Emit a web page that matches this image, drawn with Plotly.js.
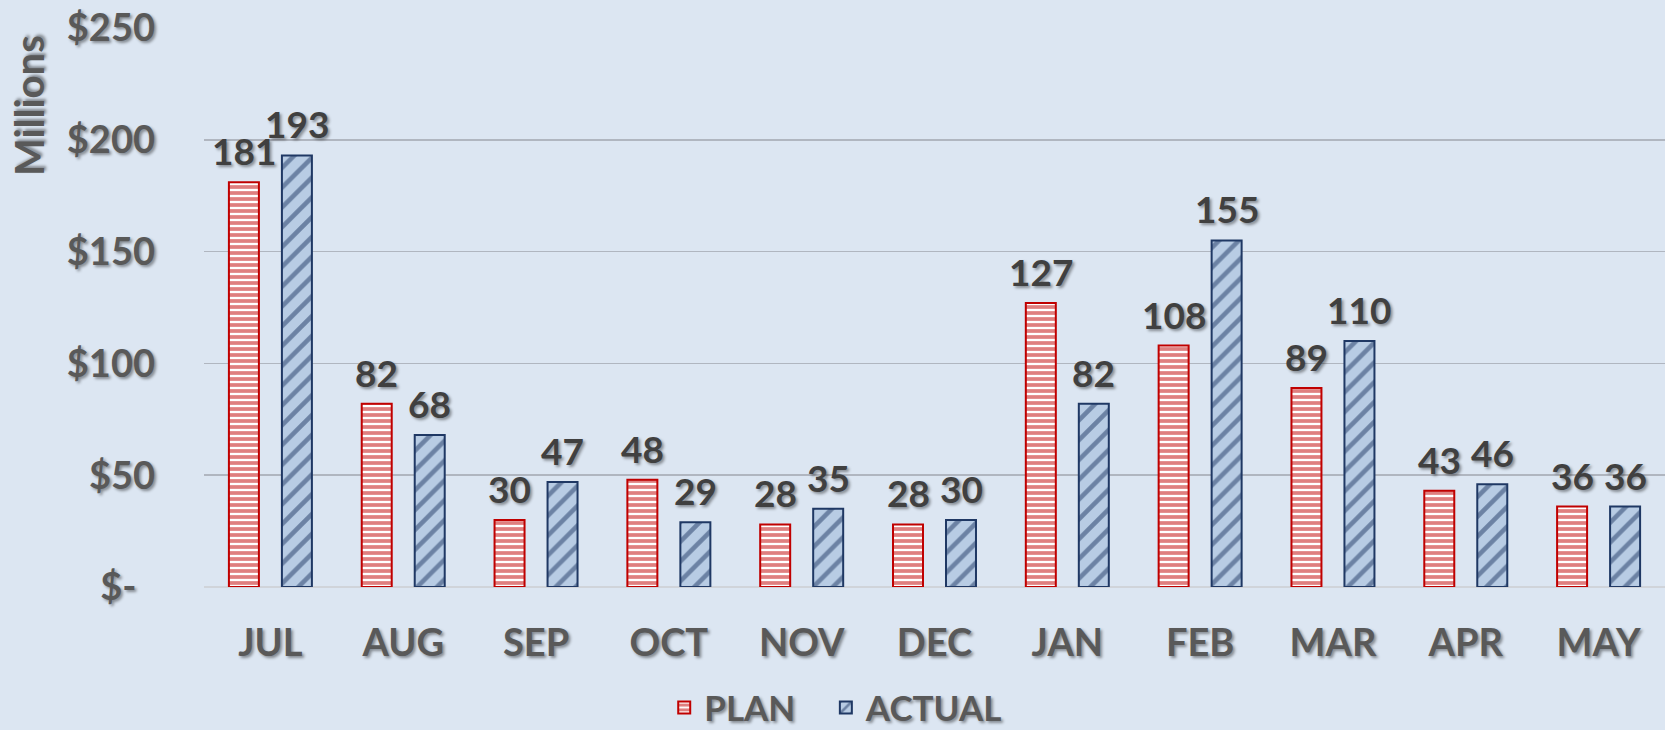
<!DOCTYPE html>
<html>
<head>
<meta charset="utf-8">
<script src="https://cdn.plot.ly/plotly-3.0.1.min.js"></script>
<style>
  html, body { margin: 0; padding: 0; background: #dce6f2; }
  #chart { width: 1665px; height: 730px; }
</style>
</head>
<body>
<div id="chart"></div>
<script>
const months = ["JUL", "AUG", "SEP", "OCT", "NOV", "DEC", "JAN", "FEB", "MAR", "APR", "MAY"];
const plan   = [181, 82, 30, 48, 28, 28, 127, 108, 89, 43, 36];
const actual = [193, 68, 47, 29, 35, 30, 82, 155, 110, 46, 36];
const seriesNames = ["PLAN", "ACTUAL"];
const tickVals = [0, 50, 100, 150, 200, 250];
const tickText = ["$-\u00a0\u00a0", "$50", "$100", "$150", "$200", "$250"];

const FONT = "Lato, 'Open Sans', sans-serif";
const GRAY = "#595959";
const SHADOW = "2px 2px 3px rgba(0,0,0,0.4)";
const RED = "#c00000";
const NAVY = "#1f3864";
const LIGHTBLUE = "#b8cce4";

const tracePlan = {
  type: "bar", name: seriesNames[0] + "\u00a0\u00a0\u00a0", x: months, y: plan,
  marker: {
    color: "#ffffff",
    line: { color: RED, width: 2 },
    pattern: { shape: "-", fgcolor: RED, bgcolor: "#ffffff", size: 6, solidity: 0.62, fillmode: "overlay" }
  },
  hoverinfo: "skip"
};
const traceActual = {
  type: "bar", name: seriesNames[1], x: months, y: actual,
  marker: {
    color: LIGHTBLUE,
    line: { color: NAVY, width: 2 },
    pattern: { shape: "/", fgcolor: NAVY, bgcolor: LIGHTBLUE, size: 14, solidity: 0.33, fillmode: "overlay" }
  },
  hoverinfo: "skip"
};

const labelFont = { family: FONT, size: 37, color: "#404040", weight: 700, shadow: SHADOW };
const annotations = [];
months.forEach((m, i) => {
  annotations.push({ x: m, y: plan[i], xref: "x", yref: "y", text: String(plan[i]), showarrow: false,
    xshift: -26.5, yanchor: "bottom", yshift: 7, font: labelFont });
  annotations.push({ x: m, y: actual[i], xref: "x", yref: "y", text: String(actual[i]), showarrow: false,
    xshift: 26.5, yanchor: "bottom", yshift: 7, font: labelFont });
});
annotations.push({
  text: "Millions", xref: "paper", yref: "paper", x: -0.1198, y: 0.862,
  xanchor: "center", yanchor: "middle", textangle: -90, showarrow: false,
  font: { family: FONT, size: 40, color: GRAY, weight: 700, shadow: SHADOW }
});

const layout = {
  width: 1665, height: 730,
  margin: { l: 204, r: 0, t: 28, b: 143, autoexpand: false },
  paper_bgcolor: "#dce6f2", plot_bgcolor: "#dce6f2",
  barmode: "group", bargap: 0.202, bargroupgap: 0.434,
  showlegend: true,
  legend: {
    orientation: "h", x: 0.315, xanchor: "left", y: -0.216, yanchor: "middle",
    font: { family: FONT, size: 35, color: GRAY, weight: 700, shadow: SHADOW },
    bgcolor: "rgba(0,0,0,0)", itemwidth: 30, traceorder: "normal"
  },
  xaxis: {
    type: "category", showgrid: false, zeroline: false, showline: false, ticks: "",
    ticklabelstandoff: 30,
    tickfont: { family: FONT, size: 38, color: GRAY, weight: 700, shadow: SHADOW }
  },
  yaxis: {
    range: [0, 250], tickvals: tickVals, ticktext: tickText,
    showgrid: true, gridcolor: "#b0b6c0", gridwidth: 1.5,
    zeroline: true, zerolinecolor: "#d0d4da", zerolinewidth: 1.5,
    showline: false, ticks: "", ticklabelstandoff: 48,
    tickfont: { family: FONT, size: 38, color: GRAY, weight: 700, shadow: SHADOW }
  },
  annotations: annotations,
  font: { family: FONT }
};

Plotly.newPlot("chart", [tracePlan, traceActual], layout, { displayModeBar: false, staticPlot: true });
</script>
</body>
</html>
